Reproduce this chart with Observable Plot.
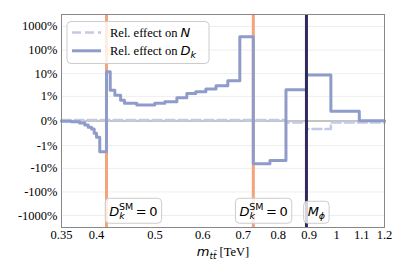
<!DOCTYPE html>
<html><head><meta charset="utf-8">
<script src="https://cdn.jsdelivr.net/npm/d3@7"></script>
<script src="https://cdn.jsdelivr.net/npm/@observablehq/plot@0.6"></script>
<style>
body{margin:0;background:#fff;}
#chart svg{display:block;}
#chart svg text{font-family:'Liberation Serif','Times New Roman',serif;}
</style></head><body><div id="chart"></div>
<script>
// bin edges in m_tt [TeV]
const binEdges = [0.35, 0.3636, 0.375, 0.3825, 0.3875, 0.3925, 0.3965, 0.40, 0.405, 0.4155, 0.4215, 0.429, 0.4385, 0.445, 0.4665, 0.4995, 0.519, 0.5435, 0.5645, 0.584, 0.607, 0.631, 0.66, 0.691, 0.7275, 0.775, 0.824, 0.891, 0.978, 1.09, 1.2];
// relative effect on D_k per bin, in %
const dkEffect = [-0.002, -0.0065, -0.021, -0.047, -0.086, -0.117, -0.23, -0.39, -1.9, 12.1, 1.91, 1.14, 0.66, 0.457, 0.377, 0.457, 0.557, 0.87, 1.37, 1.64, 2.16, 3.02, 4.97, 367, -6.4, -4.6, 2.0, 8.7, 0.156, 0.003];
// relative effect on N per bin, in %
const nEffect = [0.01, 0.01, 0.01, 0.01, 0.01, 0.01, 0.01, 0.01, 0.01, 0.01, 0.01, 0.01, 0.01, 0.01, 0.01, 0.01, 0.01, 0.01, 0.01, 0.01, 0.01, 0.01, 0.01, 0.01, 0.01, 0.01, -0.015, -0.12, -0.015, -0.015];

const xTicks = [0.35, 0.4, 0.5, 0.6, 0.7, 0.8, 0.9, 1, 1.1, 1.2];
const yTicks = [-1000, -100, -10, -1, 0, 1, 10, 100, 1000];

// vertical reference lines
const orangeLines = [0.4155, 0.7275];
const massLine = [0.891];
// annotations (x position, y position in %, key)
const annotations = [
  {x: 0.42, y: -680, key: "dk"},
  {x: 0.69, y: -680, key: "dk"},
  {x: 0.895, y: -680, key: "mphi"}
];

function steps(edges, vals) {
  return edges.map((e, i) => ({x: e, y: vals[Math.min(i, vals.length - 1)]}));
}
const dkPts = steps(binEdges, dkEffect);
const nPts = steps(binEdges, nEffect);

const sans = "'DejaVu Sans', sans-serif";

const chart = Plot.plot({
  width: 407, height: 271,
  marginLeft: 61, marginRight: 23, marginTop: 14, marginBottom: 44,
  style: {fontSize: "12.5px", color: "#000", background: "#fff"},
  x: {type: "log", domain: [0.35, 1.2]},
  y: {type: "symlog", constant: 0.1, domain: [-3200, 3200]},
  marks: [
    Plot.gridY(yTicks, {stroke: "#eeeeee", strokeOpacity: 1, strokeWidth: 1}),
    Plot.ruleY([0], {stroke: "#b3b3b3", strokeWidth: 1.5}),
    Plot.ruleX(orangeLines, {stroke: "#f3a47a", strokeWidth: 3}),
    Plot.line(nPts, {x: "x", y: "y", curve: "step-after", stroke: "#c4cae6", strokeWidth: 2.5, strokeDasharray: "9,4"}),
    Plot.line(dkPts, {x: "x", y: "y", curve: "step-after", stroke: "#8f9cc9", strokeWidth: 3}),
    Plot.ruleX(massLine, {stroke: "#2e2a5c", strokeWidth: 3}),
    Plot.text(annotations, {x: "x", y: "y", text: "key", textAnchor: "start", fontSize: 13}),
    Plot.tickX(xTicks, {x: d => d, frameAnchor: "bottom", stroke: "#888", strokeWidth: 0.8, insetTop: 0}),
    Plot.text(xTicks, {x: d => d, frameAnchor: "bottom", lineAnchor: "top", dy: 3, text: d => String(d), fontSize: 12.5}),
    Plot.axisX(xTicks, {tickSize: 0, tickFormat: () => "", fontSize: 12.5,
      label: "m [TeV]", labelAnchor: "center", labelArrow: "none", labelOffset: 28}),
    Plot.axisY(yTicks, {tickSize: 0, tickPadding: 4, tickFormat: d => d + "%", fontSize: 12.5, label: null}),
    Plot.frame({stroke: "#888", strokeWidth: 1})
  ]
});
document.getElementById("chart").appendChild(chart);

const svg = d3.select(chart);
const NS = "http://www.w3.org/2000/svg";

// remove the tick marks drawn by tickX (they'd span the whole frame); keep none
svg.selectAll('g[aria-label="tick"]').remove();

// rich text for annotations
svg.selectAll('g[aria-label="text"] text').each(function() {
  const t = d3.select(this);
  const key = t.text();
  if (key !== "dk" && key !== "mphi") return;
  t.text(null);
  t.style("font-family", sans);
  if (key === "dk") {
    t.append("tspan").attr("font-style", "italic").text("D");
    t.append("tspan").attr("font-style", "italic").attr("font-size", "9.5px").attr("dy", "3").text("k");
    t.append("tspan").attr("font-size", "9.5px").attr("dx", "-5.8").attr("dy", "-9").text("SM");
    t.append("tspan").attr("dy", "6").text("\u2009=\u20090");
  } else {
    t.append("tspan").attr("font-style", "italic").text("M");
    t.append("tspan").attr("font-style", "italic").attr("font-size", "9.5px").attr("dy", "3").text("\u03d5");
  }
  const bb = this.getBBox();
  const r = document.createElementNS(NS, "rect");
  r.setAttribute("x", bb.x - 4);
  r.setAttribute("y", bb.y - 2.5);
  r.setAttribute("width", bb.width + 8);
  r.setAttribute("height", bb.height + 5);
  r.setAttribute("rx", 4);
  r.setAttribute("fill", "#fff");
  r.setAttribute("fill-opacity", 0.8);
  r.setAttribute("stroke", "#cccccc");
  r.setAttribute("stroke-width", 1);
  const tr = this.getAttribute("transform");
  if (tr) r.setAttribute("transform", tr);
  if (this.getAttribute("x") !== null && !tr) { /* x/y attributes already in bbox */ }
  this.parentNode.insertBefore(r, this);
});

// axis label with math
svg.selectAll('g[aria-label="x-axis label"] text').each(function() {
  const t = d3.select(this);
  t.text(null);
  t.append("tspan").attr("font-family", sans).attr("font-style", "italic").attr("font-size", "13px").text("m");
  t.append("tspan").attr("font-family", sans).attr("font-style", "italic").attr("font-size", "9px").attr("dy", "3").text("tt\u0304");
  t.append("tspan").attr("dy", "-3").text(" [TeV]");
});

// legend
const lg = svg.append("g").attr("class", "legend").attr("text-anchor", "start");
lg.append("rect").attr("x", 67).attr("y", 21.5).attr("width", 142).attr("height", 42).attr("rx", 4)
  .attr("fill", "#fff").attr("fill-opacity", 0.8).attr("stroke", "#cccccc");
const entries = [
  {label: "N", color: "#c4cae6", dash: "9,4", w: 2.5},
  {label: "D", sub: "k", color: "#8f9cc9", dash: null, w: 3}
];
entries.forEach((e, i) => {
  const cy = 32.5 + i * 18.3;
  lg.append("line").attr("x1", 72).attr("x2", 101).attr("y1", cy).attr("y2", cy)
    .attr("stroke", e.color).attr("stroke-width", e.w).attr("stroke-dasharray", e.dash);
  const tx = lg.append("text").attr("x", 110).attr("y", cy + 4.3).attr("font-size", "12.5px");
  tx.append("tspan").text("Rel. effect on ");
  tx.append("tspan").attr("font-family", sans).attr("font-style", "italic").attr("font-size", "13px").text(e.label);
  if (e.sub) tx.append("tspan").attr("font-family", sans).attr("font-style", "italic").attr("font-size", "9.5px").attr("dy", 3).text(e.sub);
});
</script></body></html>
